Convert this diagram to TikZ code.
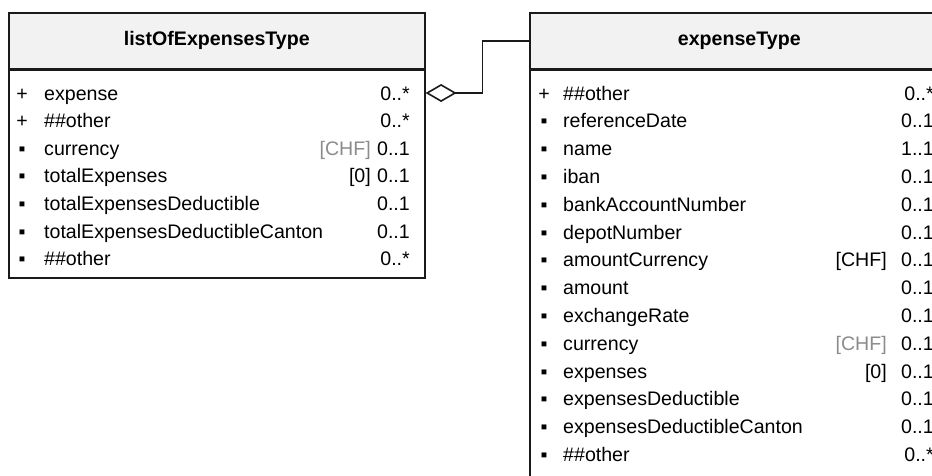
\documentclass[tikz,border=0pt]{standalone}
\usepackage{fontspec}
\setmainfont{Liberation Sans}
\usetikzlibrary{arrows.meta}
\definecolor{hdrgray}{HTML}{F2F2F2}
\definecolor{defgray}{HTML}{8C8C8C}
\definecolor{linecol}{HTML}{1A1A1A}
\begin{document}
\begin{tikzpicture}[x=1pt,y=-1pt,
  hdrbox/.style={draw=linecol, line width=1.6pt, fill=hdrgray, inner sep=0pt},
  bodybox/.style={draw=linecol, line width=1.6pt, fill=white, inner sep=0pt},
  sep/.style={draw=linecol, line width=2.2pt},
  txt/.style={inner sep=0pt, font=\fontsize{19.6}{22}\selectfont},
  ttl/.style={inner sep=0pt, font=\fontsize{19.6}{22}\selectfont\bfseries},
  symb/.style={txt, anchor=base},
  nm/.style={txt, anchor=base west},
  df/.style={txt, anchor=base east},
  mu/.style={txt, anchor=base east},
  assoc/.style={draw=linecol, line width=1.6pt, {Diamond[open, length=31pt, width=18pt, line width=1.6pt]}-},
]
\useasboundingbox (0,0) rectangle (932,475);
\clip (0,0) rectangle (932,475);

% left class
\node[bodybox, minimum width=416pt, minimum height=209pt, anchor=north west] (Lb) at (8,68) {};
\node[hdrbox, minimum width=416pt, minimum height=56pt, anchor=north west] (Lh) at (8,12) {};
\node[ttl] (Lt) at (Lh.center) {listOfExpensesType};
\draw[sep] (Lh.south west) -- (Lh.south east);

\foreach \s/\n/\d/\c/\m [count=\i] in {
  +/expense/{}/black/0..*,
  +/\#\#other/{}/black/0..*,
  ▪/currency/{[CHF]}/defgray/0..1,
  ▪/totalExpenses/{[0]}/black/0..1,
  ▪/totalExpensesDeductible/{}/black/0..1,
  ▪/totalExpensesDeductibleCanton/{}/black/0..1,
  ▪/\#\#other/{}/black/0..*}{
  \pgfmathsetmacro\yy{93+(\i-1)*27.6+7}
  \node[symb] (Ls\i) at (22,\yy) {\s};
  \node[nm] (Ln\i) at (44,\yy) {\n};
  \node[df, text=\c] (Ld\i) at (371,\yy) {\d};
  \node[mu] (Lm\i) at (410,\yy) {\m};
}

% right class
\node[bodybox, minimum width=419pt, minimum height=440pt, anchor=north west] (Rb) at (529,68) {};
\node[hdrbox, minimum width=419pt, minimum height=56pt, anchor=north west] (Rh) at (529,12) {};
\node[ttl] (Rt) at (Rh.center) {expenseType};
\draw[sep] (Rh.south west) -- (Rh.south east);

\foreach \s/\n/\d/\c/\m [count=\i] in {
  +/\#\#other/{}/black/0..*,
  ▪/referenceDate/{}/black/0..1,
  ▪/name/{}/black/1..1,
  ▪/iban/{}/black/0..1,
  ▪/bankAccountNumber/{}/black/0..1,
  ▪/depotNumber/{}/black/0..1,
  ▪/amountCurrency/{[CHF]}/black/0..1,
  ▪/amount/{}/black/0..1,
  ▪/exchangeRate/{}/black/0..1,
  ▪/currency/{[CHF]}/defgray/0..1,
  ▪/expenses/{[0]}/black/0..1,
  ▪/expensesDeductible/{}/black/0..1,
  ▪/expensesDeductibleCanton/{}/black/0..1,
  ▪/\#\#other/{}/black/0..*}{
  \pgfmathsetmacro\yy{93+(\i-1)*27.8+7}
  \node[symb] (Rs\i) at (544,\yy) {\s};
  \node[nm] (Rn\i) at (563,\yy) {\n};
  \node[df, text=\c] (Rd\i) at (887,\yy) {\d};
  \node[mu] (Rm\i) at (934,\yy) {\m};
}

% association
\coordinate (A1) at (Lb.east |- 0,93);
\draw[assoc] (A1) -- ++(57,0) |- (Rh.west);
\end{tikzpicture}
\end{document}
